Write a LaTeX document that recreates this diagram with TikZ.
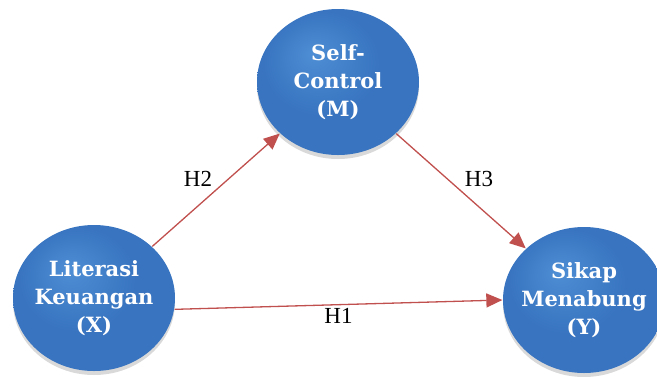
\documentclass[tikz,border=0pt]{standalone}
\usepackage{fontspec}
\setmainfont{Liberation Serif}
\newfontfamily\ballfont{DejaVu Serif}
\usetikzlibrary{shapes.geometric,shadows,arrows.meta}

\definecolor{ballhi}{RGB}{78,142,212}
\definecolor{ballmid}{RGB}{56,116,192}
\definecolor{balledge}{RGB}{36,84,150}
\definecolor{arrowred}{RGB}{192,80,77}
\pgfdeclareradialshading{ballshade}{\pgfpoint{-8bp}{10bp}}{color(0bp)=(ballhi);color(18bp)=(ballmid);color(44bp)=(ballmid);color(50bp)=(balledge)}

\begin{document}
\begin{tikzpicture}[x=1pt,y=-1pt,-{Triangle[length=16pt,width=14pt]},auto,line width=1.3pt,
    main node/.style={ellipse,minimum width=162pt,minimum height=146pt,inner xsep=-20pt,inner ysep=-10pt,
        text=white,align=center,font=\ballfont\bfseries\fontsize{21}{28}\selectfont,
        shading=ballshade,
        drop shadow={shadow xshift=0pt,shadow yshift=-4pt,opacity=0.3}},
    every edge/.style={draw,color=arrowred}]

        \useasboundingbox (0,0) rectangle (657,376);

        \node[main node] (1) at (94,298) {Literasi\\Keuangan\\(X)};
        \node[main node] (2) at (338,82) {Self-\\Control\\(M)};
        \node[main node] (3) at (584,300) {Sikap\\Menabung\\(Y)};

        \path[every node/.style={text=black,font=\fontsize{23}{27}\selectfont}]
        (1) edge node{H2} (2)
        (2) edge node{H3} (3)
        (1.-8) edge[swap] node{H1} (3.west)
        ;
    \end{tikzpicture}
\end{document}
